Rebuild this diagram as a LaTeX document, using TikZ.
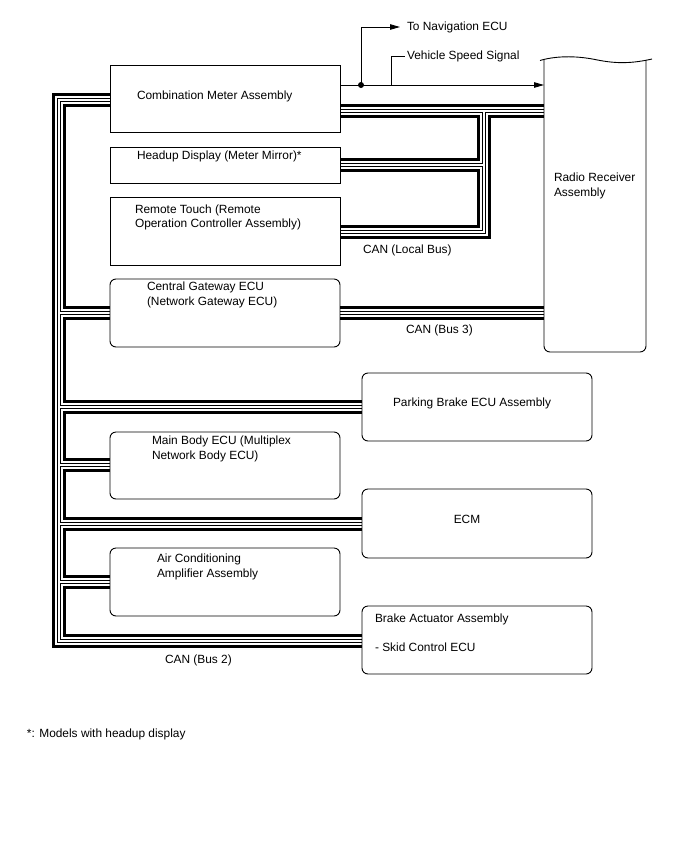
\documentclass[tikz,border=0pt]{standalone}
\usepackage{fontspec}
\setmainfont{Liberation Sans}
\usetikzlibrary{arrows.meta,calc}
\pgfdeclarelayer{buslayer}
\pgfsetlayers{buslayer,main}
\newcommand\drawbusnet[1]{%
  \draw[#1] (cm.west |- t0) -- (t0) -- (tb) -- (ba.west |- tb);
  \draw[#1] (t1) -- (gw.west |- t1);
  \draw[#1] (t2) -- (pb.west |- t2);
  \draw[#1] (t3) -- (mb.west |- t3);
  \draw[#1] (t4) -- (ecm.west |- t4);
  \draw[#1] (t5) -- (ac.west |- t5);
  \draw[#1] (cm.east |- l0) -- (rr.west |- l0);
  \draw[#1] (l0) -- (l2) -- (rt.east |- l2);
  \draw[#1] (l1) -- (hud.east |- l1);
  \draw[#1] (gw.east) -- (rr.west |- gw.east);
}
\begin{document}
\begin{tikzpicture}[x=1pt,y=-1pt,
  every node/.style={font=\fontsize{11.9}{14.5}\selectfont, inner sep=0pt, outer sep=0pt},
  box/.style={draw, line width=0.9pt, minimum width=230pt, anchor=north west},
  rbox/.style={box, rounded corners=6pt},
  lbl/.style={anchor=west, align=left},
  wire/.style={line width=0.9pt},
  arr/.style={wire, -{Triangle[length=10pt,width=5.5pt]}},
]
\useasboundingbox (0,0) rectangle (688,852);

% boxes
\node[box, minimum height=67pt] (cm) at (110,65) {};
\node[box, minimum height=36pt] (hud) at (110,147) {};
\node[box, minimum height=68pt] (rt) at (110,197) {};
\node[rbox, minimum height=68pt] (gw) at (110,279) {};
\node[rbox, minimum height=68pt] (pb) at (362,373) {};
\node[rbox, minimum height=67pt] (mb) at (110,432) {};
\node[rbox, minimum height=69pt] (ecm) at (362,489) {};
\node[rbox, minimum height=68pt] (ac) at (110,548) {};
\node[rbox, minimum height=68pt] (ba) at (362,606) {};
\node[minimum width=102pt, minimum height=292pt, anchor=north west] (rr) at (544,60) {};

% radio receiver outline
\draw[line width=0.9pt, rounded corners=6pt] (rr.north west) -- (rr.south west) -- (rr.south east) -- (rr.north east);
\draw[line width=0.9pt] (540,60.5) .. controls (555,56) and (575,55.5) .. (595,59.5) .. controls (612,63) and (628,64.5) .. (652,59);

% bus junction coordinates
\coordinate (t0) at (59,100);
\coordinate (t1) at (59,313);
\coordinate (t2) at (59,407);
\coordinate (t3) at (59,465);
\coordinate (t4) at (59,524);
\coordinate (t5) at (59,582);
\coordinate (tb) at (59,641);
\coordinate (l0) at (484,111);
\coordinate (l1) at (484,165);
\coordinate (l2) at (484,232);

% buses (layered twisted pair), drawn beneath the box outlines
\begin{pgfonlayer}{buslayer}
\drawbusnet{line width=14pt, black}
\drawbusnet{line width=8pt, white}
\drawbusnet{line width=4.2pt, black}
\drawbusnet{line width=2.2pt, white}
\end{pgfonlayer}

% labels
\node[lbl] (navtxt) at (407,27) {To Navigation ECU};
\node[lbl] (vsstxt) at (407,56) {Vehicle Speed Signal};
\node[lbl] (cmtxt) at (137,96) {Combination Meter Assembly};
\node[lbl] (hudtxt) at (137,156) {Headup Display (Meter Mirror)*};
\node[lbl] (rttxt) at (135,217.5) {Remote Touch (Remote\\Operation Controller Assembly)};
\node[lbl] (lbtxt) at (363,250) {CAN (Local Bus)};
\node[lbl] (gwtxt) at (147,295) {Central Gateway ECU\\(Network Gateway ECU)};
\node[lbl] (b3txt) at (406,330) {CAN (Bus 3)};
\node[lbl] (rrtxt) at (554,186) {Radio Receiver\\Assembly};
\node[lbl] (pbtxt) at (393,403) {Parking Brake ECU Assembly};
\node[lbl] (mbtxt) at (152,449) {Main Body ECU (Multiplex\\Network Body ECU)};
\node (ecmtxt) at (467,519) {ECM};
\node[lbl] (actxt) at (157,567) {Air Conditioning\\Amplifier Assembly};
\node[lbl] (batxt) at (375,619) {Brake Actuator Assembly};
\node[lbl] (sctxt) at (375,647) {- Skid Control ECU};
\node[lbl] (b2txt) at (165,660) {CAN (Bus 2)};
\node[lbl] (notetxt) at (27,734) {*: Models with headup display};

% signal wires
\coordinate (vs) at (340,85);
\coordinate (dot) at (361,85);
\coordinate (vsl) at (391,85);
\draw[arr] (cm.east |- vs) -- (rr.west |- vs);
\fill (dot) circle (3pt);
\draw[arr] (dot) |- ([xshift=-7pt]navtxt.west);
\draw[wire] (vsl) |- ([xshift=-2pt]vsstxt.west);
\end{tikzpicture}
\end{document}
